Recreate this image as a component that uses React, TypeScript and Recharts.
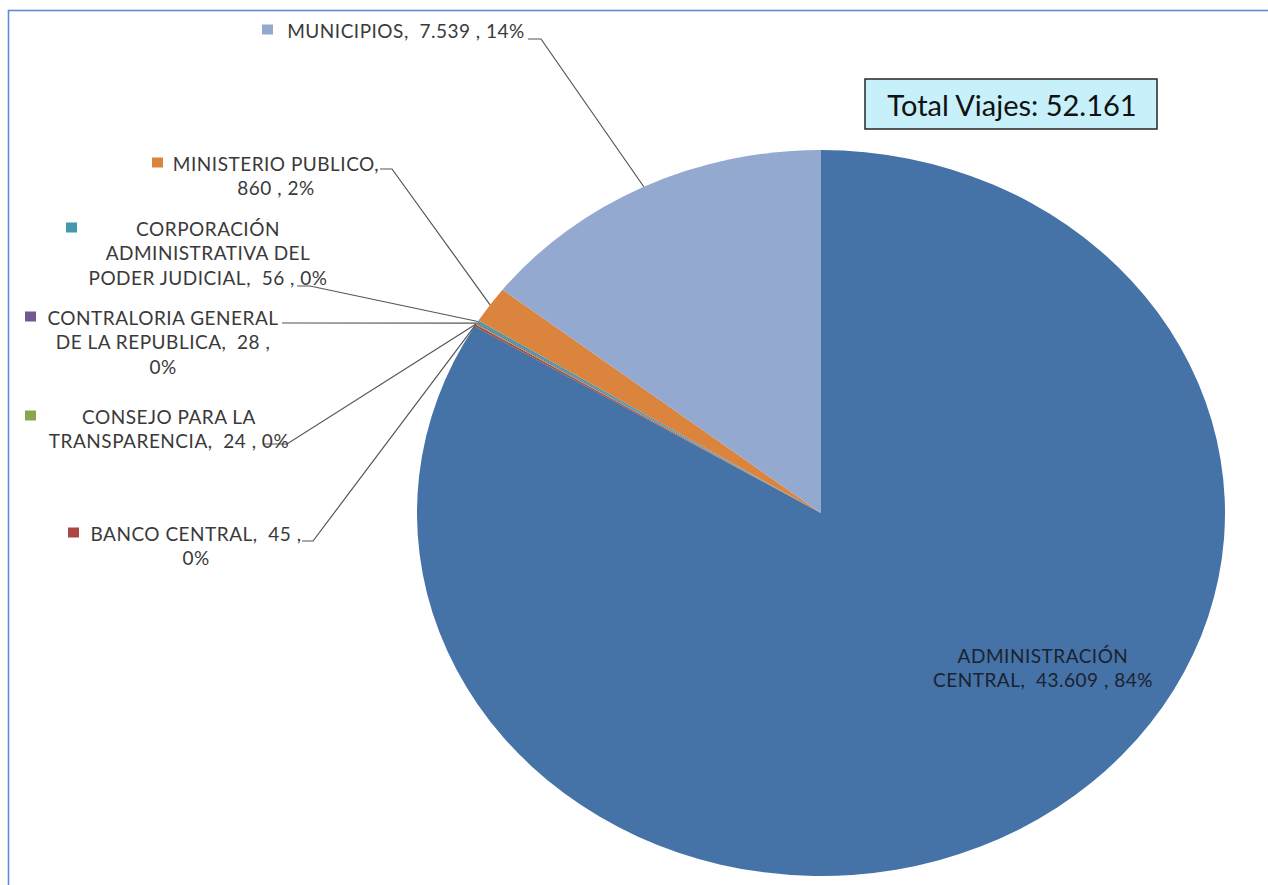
import React from 'react';
import { PieChart, Pie, Cell } from 'recharts';

const categories = [
  'ADMINISTRACIÓN CENTRAL',
  'BANCO CENTRAL',
  'CONSEJO PARA LA TRANSPARENCIA',
  'CONTRALORIA GENERAL DE LA REPUBLICA',
  'CORPORACIÓN ADMINISTRATIVA DEL PODER JUDICIAL',
  'MINISTERIO PUBLICO',
  'MUNICIPIOS',
];
const values = [43609, 45, 24, 28, 56, 860, 7539];
const colors = ['#4572A7', '#AA4643', '#89A54E', '#71588F', '#4198AF', '#DB843D', '#93A9CF'];
const totalTitle = 'Total Viajes';

// label layout (page coordinates): text centre x, first line centre y, wrap width (chars),
// legend-key x, leader-line anchor points (the last point is the slice edge, computed)
const labelLayout = [
  { cx: 1043, y: 655, wrap: 21, keyX: null, leader: [] as number[][] },
  { cx: 196, y: 533, wrap: 19, keyX: 68, leader: [[302, 541], [313, 541]] },
  { cx: 169, y: 416, wrap: 22, keyX: 25, leader: [[263, 444], [287, 444]] },
  { cx: 163, y: 317, wrap: 21, keyX: 25, leader: [[282, 323]] },
  { cx: 208, y: 228, wrap: 23, keyX: 66, leader: [[297, 286], [310, 286]] },
  { cx: 276, y: 163, wrap: 20, keyX: 152, leader: [[380, 169], [392, 169]] },
  { cx: 406, y: 30, wrap: 99, keyX: 262, leader: [[528, 39], [541, 39]] },
];

const data = categories.map((name, i) => ({ name, value: values[i] }));

const W = 1268;
const H = 885;
const PIE_CX = 821;
const PIE_CY = 513;
const RY = 363;
const SX = 404 / 363;
const LINE_H = 24.5;
const FONT = 'Lato, "Open Sans", sans-serif';

const fmt = (v: number) => String(v).replace(/\B(?=(\d{3})+(?!\d))/g, '.');

const wrap = (text: string, max: number) => {
  const words = text.split(' ').filter((w) => w.length);
  const lines: string[] = [];
  let cur = '';
  words.forEach((w) => {
    const cand = cur ? cur + ' ' + w : w;
    if (cand.length > max && cur) {
      lines.push(cur);
      cur = w;
    } else cur = cand;
  });
  if (cur) lines.push(cur);
  return lines.map((l) => l.replace(/([A-ZÁÉÍÓÚ]), (?=\d)/, '$1,  '));
};

const RAD = Math.PI / 180;

const EllipseSector = (props: any) => {
  const { cx, cy, outerRadius, startAngle, endAngle, fill } = props;
  const rx = outerRadius * SX;
  const ry = outerRadius;
  const x0 = cx + rx * Math.cos(-startAngle * RAD);
  const y0 = cy + ry * Math.sin(-startAngle * RAD);
  const x1 = cx + rx * Math.cos(-endAngle * RAD);
  const y1 = cy + ry * Math.sin(-endAngle * RAD);
  const delta = Math.abs(endAngle - startAngle);
  const large = delta > 180 ? 1 : 0;
  const sweep = endAngle < startAngle ? 1 : 0;
  const d = `M${cx},${cy} L${x0},${y0} A${rx},${ry} 0 ${large} ${sweep} ${x1},${y1} Z`;
  return <path d={d} fill={fill} stroke="none" />;
};

const renderLabel = (p: any) => {
  const L = labelLayout[p.index];
  if (!L) return null;
  const name = p.payload && p.payload.name ? p.payload.name : p.name;
  const text = `${name}, ${fmt(p.value)} , ${Math.round(p.percent * 100)}%`;
  const lines = wrap(text, L.wrap);
  const ang = -p.midAngle * RAD;
  const ex = p.cx + p.outerRadius * SX * Math.cos(ang);
  const ey = p.cy + p.outerRadius * Math.sin(ang);
  const pts = L.leader.length ? [...L.leader, [ex, ey]] : [];
  const isInside = L.keyX === null;
  return (
    <g key={`lbl-${p.index}`}>
      {pts.length > 1 && (
        <polyline
          points={pts.map((q) => q.join(',')).join(' ')}
          fill="none"
          stroke="#555"
          strokeWidth={1.2}
        />
      )}
      {L.keyX !== null && (
        <rect x={L.keyX} y={L.y - 5.5} width={11} height={10} fill={colors[p.index]} />
      )}
      <text
        x={L.cx}
        y={L.y}
        textAnchor="middle"
        fontFamily={FONT}
        fontSize={19}
        letterSpacing={0.5}
        style={{ whiteSpace: 'pre' }}
        fill={isInside ? '#1b2230' : '#3a3a3a'}
      >
        {lines.map((ln, i) => (
          <tspan key={i} x={L.cx} y={L.y + i * LINE_H} dominantBaseline="central">
            {ln}
          </tspan>
        ))}
      </text>
    </g>
  );
};

export default function App() {
  const total = values.reduce((a, b) => a + b, 0);
  return (
    <div style={{ position: 'fixed', left: 0, top: 0, width: W, height: H, background: '#fff', overflow: 'hidden' }}>
      <svg width={W} height={H} style={{ position: 'absolute', left: 0, top: 0 }}>
        <rect x={8.5} y={10.5} width={1400} height={1000} fill="none" stroke="#5B8DD5" strokeWidth={1.6} />
      </svg>
      <div style={{ position: 'absolute', left: 0, top: 0 }}>
        <PieChart width={W} height={H} margin={{ top: 0, right: 0, bottom: 0, left: 0 }}>
          <Pie
            data={data}
            dataKey="value"
            nameKey="name"
            cx={PIE_CX}
            cy={PIE_CY}
            outerRadius={RY}
            startAngle={90}
            endAngle={-270}
            stroke="none"
            isAnimationActive={false}
            shape={EllipseSector}
            inactiveShape={EllipseSector}
            activeShape={EllipseSector}
            label={renderLabel}
            labelLine={false}
          >
            {data.map((d, i) => (
              <Cell key={d.name} fill={colors[i]} />
            ))}
          </Pie>
        </PieChart>
      </div>
      <svg width={W} height={H} style={{ position: 'absolute', left: 0, top: 0, pointerEvents: 'none' }}>
        <rect x={865} y={79} width={292} height={50} fill="#C8F0FA" stroke="#262626" strokeWidth={1.5} />
        <text x={1012} y={104} textAnchor="middle" dominantBaseline="central" fontFamily={FONT} fontSize={29} fill="#111">
          {`${totalTitle}: ${fmt(total)}`}
        </text>
      </svg>
    </div>
  );
}
